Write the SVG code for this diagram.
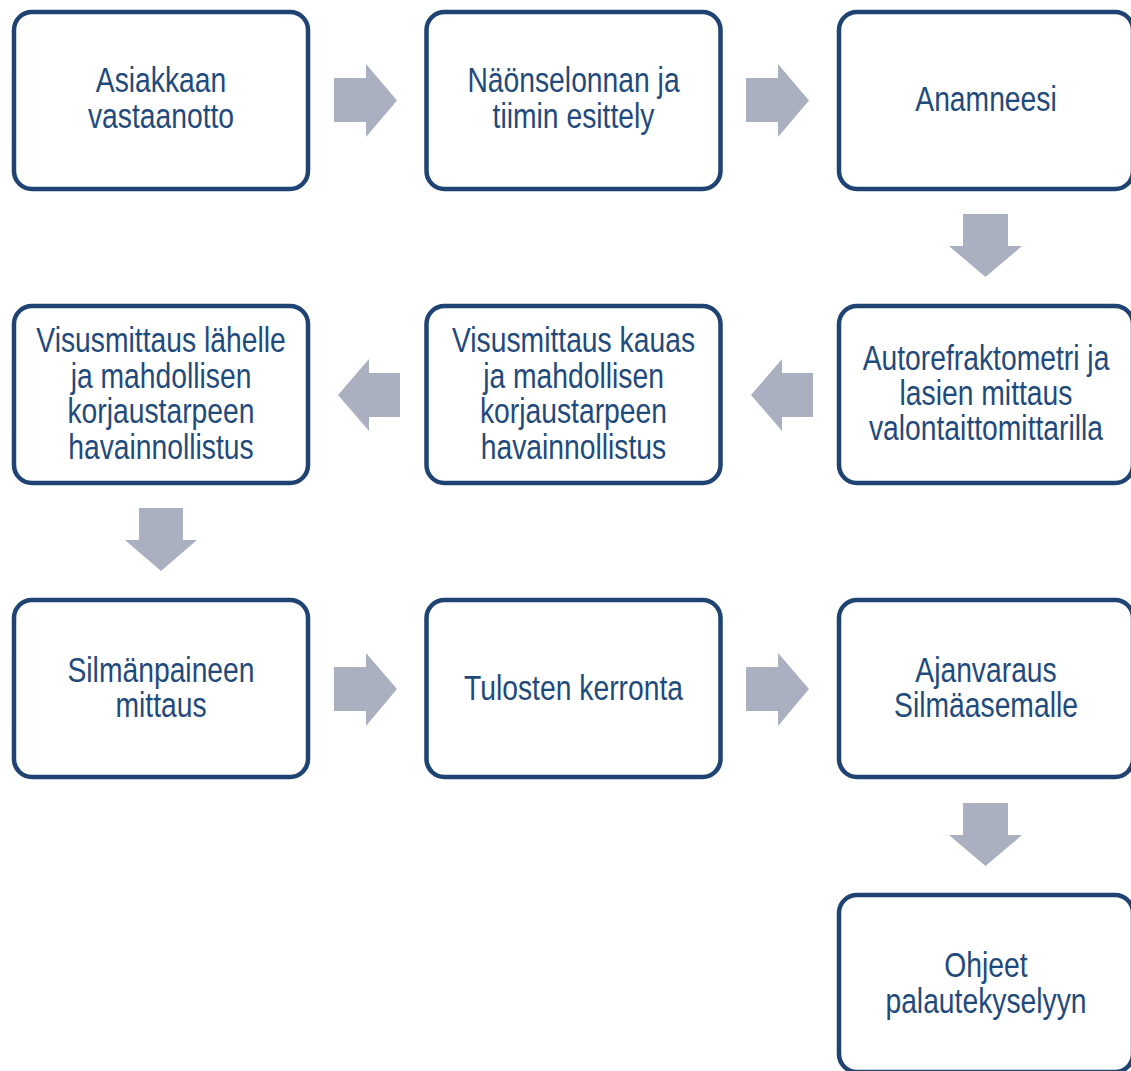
<svg xmlns="http://www.w3.org/2000/svg" width="1131" height="1071" viewBox="0 0 1131 1071">
<style>
.box{fill:#ffffff;stroke:#1f4372;stroke-width:4.5}
.arr{fill:#aab0bf}
.t{font-family:"Liberation Sans",Arial,sans-serif;font-size:34.5px;fill:#1f4a7c;text-anchor:middle}
</style>
<rect width="1131" height="1071" fill="#ffffff"/>
<g id="connectors">
<polygon class="arr" points="334,78 366,78 366,64 397,100.5 366,137 366,122 334,122"/>
<polygon class="arr" points="746,78 778,78 778,64 809,100.5 778,137 778,122 746,122"/>
<polygon class="arr" points="963,214 1008,214 1008,246 1022,246 985.5,277 949,246 963,246"/>
<polygon class="arr" points="813,373 782,373 782,359 751,395 782,431 782,417 813,417"/>
<polygon class="arr" points="400,373 369,373 369,359 338,395 369,431 369,417 400,417"/>
<polygon class="arr" points="139,508 183,508 183,540 197,540 161,571 125,540 139,540"/>
<polygon class="arr" points="334,667 366,667 366,653 397,689 366,726 366,711 334,711"/>
<polygon class="arr" points="746,667 778,667 778,653 809,689 778,726 778,711 746,711"/>
<polygon class="arr" points="963,803 1008,803 1008,835 1022,835 985.5,866 949,835 963,835"/>
</g>
<g id="n1">
<rect class="box" x="14" y="12" width="294" height="177" rx="18"/>
<text class="t" transform="translate(161 0) scale(0.82 1)"><tspan x="0" y="92">Asiakkaan</tspan><tspan x="0" y="128">vastaanotto</tspan></text>
</g>
<g id="n2">
<rect class="box" x="426.5" y="12" width="294" height="177" rx="18"/>
<text class="t" transform="translate(573.5 0) scale(0.82 1)"><tspan x="0" y="92">Näönselonnan ja</tspan><tspan x="0" y="128">tiimin esittely</tspan></text>
</g>
<g id="n3">
<rect class="box" x="839" y="12" width="294" height="177" rx="18"/>
<text class="t" transform="translate(986 0) scale(0.82 1)"><tspan x="0" y="111">Anamneesi</tspan></text>
</g>
<g id="n4">
<rect class="box" x="839" y="306" width="294" height="177" rx="18"/>
<text class="t" transform="translate(986 0) scale(0.82 1)"><tspan x="0" y="370">Autorefraktometri ja</tspan><tspan x="0" y="405">lasien mittaus</tspan><tspan x="0" y="440">valontaittomittarilla</tspan></text>
</g>
<g id="n5">
<rect class="box" x="426.5" y="306" width="294" height="177" rx="18"/>
<text class="t" transform="translate(573.5 0) scale(0.82 1)"><tspan x="0" y="352">Visusmittaus kauas</tspan><tspan x="0" y="388">ja mahdollisen</tspan><tspan x="0" y="423">korjaustarpeen</tspan><tspan x="0" y="459">havainnollistus</tspan></text>
</g>
<g id="n6">
<rect class="box" x="14" y="306" width="294" height="177" rx="18"/>
<text class="t" transform="translate(161 0) scale(0.82 1)"><tspan x="0" y="352">Visusmittaus lähelle</tspan><tspan x="0" y="388">ja mahdollisen</tspan><tspan x="0" y="423">korjaustarpeen</tspan><tspan x="0" y="459">havainnollistus</tspan></text>
</g>
<g id="n7">
<rect class="box" x="14" y="600" width="294" height="177" rx="18"/>
<text class="t" transform="translate(161 0) scale(0.82 1)"><tspan x="0" y="682">Silmänpaineen</tspan><tspan x="0" y="717">mittaus</tspan></text>
</g>
<g id="n8">
<rect class="box" x="426.5" y="600" width="294" height="177" rx="18"/>
<text class="t" transform="translate(573.5 0) scale(0.82 1)"><tspan x="0" y="700">Tulosten kerronta</tspan></text>
</g>
<g id="n9">
<rect class="box" x="839" y="600" width="294" height="177" rx="18"/>
<text class="t" transform="translate(986 0) scale(0.82 1)"><tspan x="0" y="682">Ajanvaraus</tspan><tspan x="0" y="717">Silmäasemalle</tspan></text>
</g>
<g id="n10">
<rect class="box" x="839" y="895" width="294" height="177" rx="18"/>
<text class="t" transform="translate(986 0) scale(0.82 1)"><tspan x="0" y="977">Ohjeet</tspan><tspan x="0" y="1013">palautekyselyyn</tspan></text>
</g>
</svg>
